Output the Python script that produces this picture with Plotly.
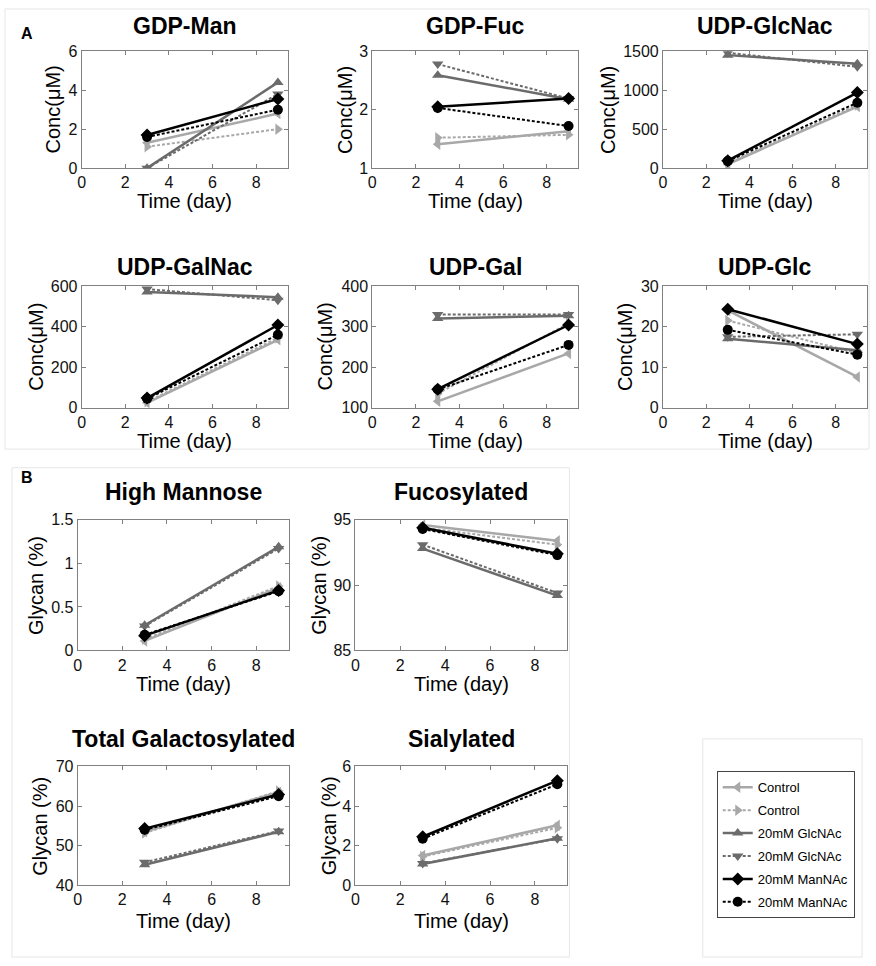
import plotly.graph_objects as go

W, H = 876, 966
FONT = "Liberation Sans, Arial, sans-serif"

# ---------------- data ----------------
days = [3, 9]
series_names = ["Control", "Control", "20mM GlcNAc", "20mM GlcNAc", "20mM ManNAc", "20mM ManNAc"]

# order: Control solid, Control dashed, GlcNAc solid, GlcNAc dashed, ManNAc solid, ManNAc dashed
gdp_man = [[1.3, 2.8], [1.1, 2.0], [0.0, 4.4], [0.0, 3.8], [1.7, 3.55], [1.6, 3.0]]
gdp_fuc = [[1.41, 1.63], [1.52, 1.57], [2.59, 2.18], [2.78, 2.19], [2.05, 2.19], [2.03, 1.72]]
udp_glcnac = [[50, 790], [60, 810], [1450, 1340], [1480, 1300], [95, 970], [90, 840]]
udp_galnac = [[25, 335], [30, 345], [570, 545], [585, 530], [48, 408], [45, 360]]
udp_gal = [[116, 234], [135, 308], [320, 327], [330, 330], [146, 304], [145, 255]]
udp_glc = [[24.0, 7.6], [21.5, 13.5], [17.0, 14.2], [17.5, 18.1], [24.3, 15.7], [19.2, 13.1]]
high_mannose = [[0.11, 0.72], [0.13, 0.74], [0.29, 1.19], [0.28, 1.17], [0.17, 0.69], [0.18, 0.68]]
fucosylated = [[94.6, 93.4], [94.4, 93.1], [92.8, 89.2], [93.1, 89.4], [94.4, 92.4], [94.3, 92.3]]
total_galactosylated = [[53.5, 63.5], [53.2, 63.8], [45.2, 53.5], [45.8, 53.7], [54.3, 62.9], [54.0, 62.5]]
sialylated = [[1.5, 3.03], [1.45, 2.9], [1.07, 2.37], [1.1, 2.35], [2.45, 5.28], [2.35, 5.1]]

x_ticks = [0, 2, 4, 6, 8]

panels = [
    ("GDP-Man", gdp_man, [0, 6], [0, 2, 4, 6], "Conc(μM)"),
    ("GDP-Fuc", gdp_fuc, [1, 3], [1, 2, 3], "Conc(μM)"),
    ("UDP-GlcNac", udp_glcnac, [0, 1500], [0, 500, 1000, 1500], "Conc(μM)"),
    ("UDP-GalNac", udp_galnac, [0, 600], [0, 200, 400, 600], "Conc(μM)"),
    ("UDP-Gal", udp_gal, [100, 400], [100, 200, 300, 400], "Conc(μM)"),
    ("UDP-Glc", udp_glc, [0, 30], [0, 10, 20, 30], "Conc(μM)"),
    ("High Mannose", high_mannose, [0, 1.5], [0, 0.5, 1, 1.5], "Glycan (%)"),
    ("Fucosylated", fucosylated, [85, 95], [85, 90, 95], "Glycan (%)"),
    ("Total Galactosylated", total_galactosylated, [40, 70], [40, 50, 60, 70], "Glycan (%)"),
    ("Sialylated", sialylated, [0, 6], [0, 2, 4, 6], "Glycan (%)"),
]

# ---------------- layout geometry (pixels) ----------------
# left, top, right, bottom of plotting area, y-label x centre, title gap, xlabel gap
boxes = [
    (78, 44, 285, 163, 49, 26, 33),
    (370, 44, 577, 163, 342, 26, 33),
    (662, 44, 867, 163, 606, 26, 33),
    (78, 283, 285, 407, 32, 19, 34),
    (370, 283, 577, 407, 322, 19, 34),
    (662, 283, 867, 407, 624, 19, 34),
    (74, 521, 286, 654, 32, 28, 34),
    (353, 521, 566, 654, 317, 28, 34),
    (74, 772, 286, 893, 36, 28, 36),
    (353, 772, 566, 893, 326, 28, 36),
]

colors = ["#a8a8a8", "#a8a8a8", "#6b6b6b", "#6b6b6b", "#000000", "#000000"]
dashes = ["solid", "3px,2px", "solid", "3px,2px", "solid", "3px,2px"]
symbols = ["triangle-left", "triangle-right", "triangle-up", "triangle-down", "diamond", "circle"]
widths = [2.5, 2, 2.5, 2, 2.5, 2]

fig = go.Figure()
annotations = []
shapes = []

def px(x):
    return x / W

def py(y):
    return 1 - y / H

for i, (title, vals, yr, yt, ylab) in enumerate(panels):
    n = i + 1
    xa = "x" if n == 1 else f"x{n}"
    ya = "y" if n == 1 else f"y{n}"
    l, t, r, b, ylx, tg, xg = boxes[i]
    for k in range(6):
        fig.add_trace(go.Scatter(
            x=days, y=vals[k], xaxis=xa, yaxis=ya,
            mode="lines+markers", name=series_names[k],
            legendgroup=f"g{k}",
            line=dict(color=colors[k], width=widths[k], dash=dashes[k]),
            marker=dict(symbol=symbols[k], size=10, color=colors[k]),
            showlegend=(i == 0), legendrank=k + 1,
        ))
    axcommon = dict(showline=True, linecolor="#808080", linewidth=1, mirror="ticks",
                    ticks="inside", ticklen=4, tickcolor="#808080", showgrid=False,
                    zeroline=False, tickfont=dict(family=FONT, size=16, color="#111"))
    fig.update_layout(**{
        ("xaxis" if n == 1 else f"xaxis{n}"): dict(domain=[px(l), px(r)], anchor=ya,
                                                  range=[0, 9.45], tickvals=x_ticks, **axcommon),
        ("yaxis" if n == 1 else f"yaxis{n}"): dict(domain=[py(b), py(t)], anchor=xa,
                                                  range=yr, tickvals=yt, **axcommon),
    })
    cx = (l + r) / 2
    annotations.append(dict(text=f"<b>{title}</b>", x=px(cx), y=py(t - tg), xref="paper", yref="paper",
                            showarrow=False, font=dict(family=FONT, size=23, color="#000"),
                            xanchor="center", yanchor="middle"))
    annotations.append(dict(text="Time (day)", x=px(cx), y=py(b + xg), xref="paper", yref="paper",
                            showarrow=False, font=dict(family=FONT, size=20, color="#000"),
                            xanchor="center", yanchor="middle"))
    annotations.append(dict(text=ylab, x=px(ylx), y=py((t + b) / 2), xref="paper", yref="paper",
                            showarrow=False, textangle=-90, font=dict(family=FONT, size=20, color="#000"),
                            xanchor="center", yanchor="middle"))

annotations.append(dict(text="<b>A</b>", x=px(15), y=py(15), xref="paper", yref="paper", showarrow=False,
                        font=dict(family=FONT, size=16, color="#000")))
annotations.append(dict(text="<b>B</b>", x=px(15), y=py(478), xref="paper", yref="paper", showarrow=False,
                        font=dict(family=FONT, size=16, color="#000")))

# faint panel frames
frame = dict(type="rect", xref="paper", yref="paper", line=dict(color="#e6e6e6", width=1), layer="below")
shapes.append(dict(frame, x0=px(1), x1=px(869), y0=py(449), y1=py(1)))
shapes.append(dict(frame, x0=px(8), x1=px(568), y0=py(966), y1=py(468)))
shapes.append(dict(frame, x0=px(702), x1=px(862), y0=py(966), y1=py(744)))

fig.update_layout(
    width=W, height=H, margin=dict(l=0, r=0, t=0, b=0),
    paper_bgcolor="white", plot_bgcolor="white",
    annotations=annotations, shapes=shapes,
    legend=dict(x=px(716), y=py(777), xanchor="left", yanchor="top",
                bordercolor="#444", borderwidth=1, bgcolor="white",
                font=dict(family=FONT, size=13, color="#000"), tracegroupgap=3,
                itemwidth=30),
)

fig.write_html("out.html", config={"displayModeBar": False},
               post_script="document.body.style.margin='0';document.body.style.overflow='hidden';")
